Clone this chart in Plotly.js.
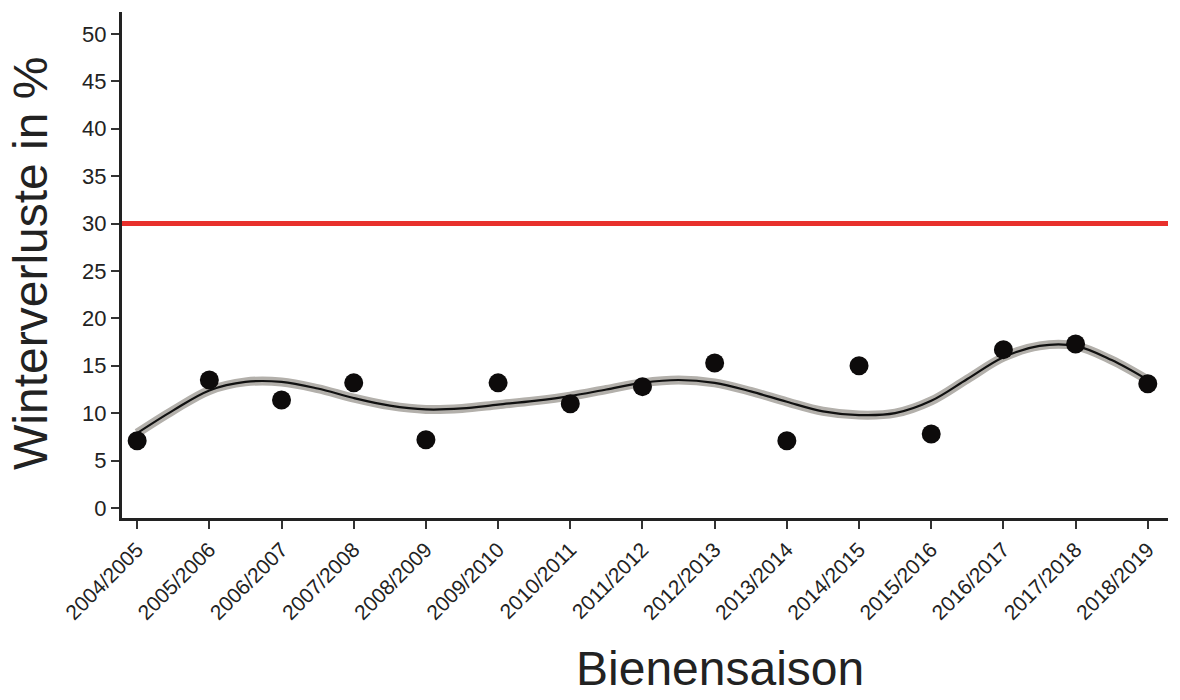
<!DOCTYPE html>
<html>
<head>
<meta charset="utf-8">
<script src="https://cdn.plot.ly/plotly-3.0.1.min.js"></script>
<style>html,body{margin:0;padding:0;background:#fff;}#chart{width:1180px;height:700px;}</style>
</head>
<body>
<div id="chart"></div>
<script>
var seasons = ["2004/2005","2005/2006","2006/2007","2007/2008","2008/2009","2009/2010","2010/2011","2011/2012","2012/2013","2013/2014","2014/2015","2015/2016","2016/2017","2017/2018","2018/2019"];
var losses = [7.1, 13.5, 11.4, 13.2, 7.2, 13.2, 11.0, 12.8, 15.3, 7.1, 15.0, 7.8, 16.7, 17.3, 13.1];
var curvePos = [0,0.5,1,1.5,2,2.5,3,3.5,4,4.5,5,5.5,6,6.5,7,7.5,8,8.5,9,9.5,10,10.5,11,11.5,12,12.5,13,13.5,14];
var curveVal = [7.9,10.3,12.4,13.3,13.3,12.6,11.6,10.8,10.4,10.5,10.9,11.3,11.8,12.5,13.2,13.5,13.2,12.3,11.2,10.2,9.8,10.0,11.3,13.6,15.9,17.1,17.1,15.6,13.5];
var threshold = 30;
var yTicks = [0,5,10,15,20,25,30,35,40,45,50];

var idx = seasons.map(function(s,i){return i;});

var traces = [
  {x: curvePos, y: curveVal, type:'scatter', mode:'lines', line:{color:'#b3b0ab', width:9, shape:'spline', smoothing:1}, hoverinfo:'skip', showlegend:false},
  {x: curvePos, y: curveVal, type:'scatter', mode:'lines', line:{color:'#111', width:2.2, shape:'spline', smoothing:1}, showlegend:false},
  {x: idx, y: losses, type:'scatter', mode:'markers', marker:{color:'#0d0b0b', size:19}, text: seasons, showlegend:false}
];

var layout = {
  width:1180, height:700,
  margin:{l:122, r:12, t:12, b:182},
  paper_bgcolor:'#fff', plot_bgcolor:'#fff',
  font:{family:'Liberation Sans, Arial, sans-serif', color:'#222'},
  xaxis:{
    range:[-0.21, 14.28], tickvals: idx, ticktext: seasons, tickangle:-45,
    tickfont:{size:21, color:'#222'}, showgrid:false, zeroline:false,
    showline:true, linecolor:'#222', linewidth:3, ticks:'outside', ticklen:8, tickwidth:2, tickcolor:'#333'
  },
  yaxis:{
    range:[-1.05, 52.3], tickvals: yTicks, ticktext: yTicks.map(String),
    tickfont:{size:22, color:'#222'}, showgrid:false, zeroline:false,
    showline:true, linecolor:'#222', linewidth:3, ticks:'outside', ticklen:8, tickwidth:2, tickcolor:'#333'
  },
  shapes:[
    {type:'line', xref:'paper', x0:0, x1:1, yref:'y', y0:threshold, y1:threshold, line:{color:'#e8302c', width:5}}
  ],
  annotations:[
    {text:'Winterverluste in %', xref:'paper', yref:'paper', x:-0.087, y:0.504, xanchor:'center', yanchor:'middle', textangle:-90, showarrow:false, font:{size:48, color:'#222'}},
    {text:'Bienensaison', xref:'paper', yref:'paper', x:0.572, y:-0.298, xanchor:'center', yanchor:'middle', borderpad:0, showarrow:false, font:{size:48, color:'#222'}}
  ]
};

Plotly.newPlot('chart', traces, layout, {displayModeBar:false, responsive:false});
</script>
</body>
</html>
